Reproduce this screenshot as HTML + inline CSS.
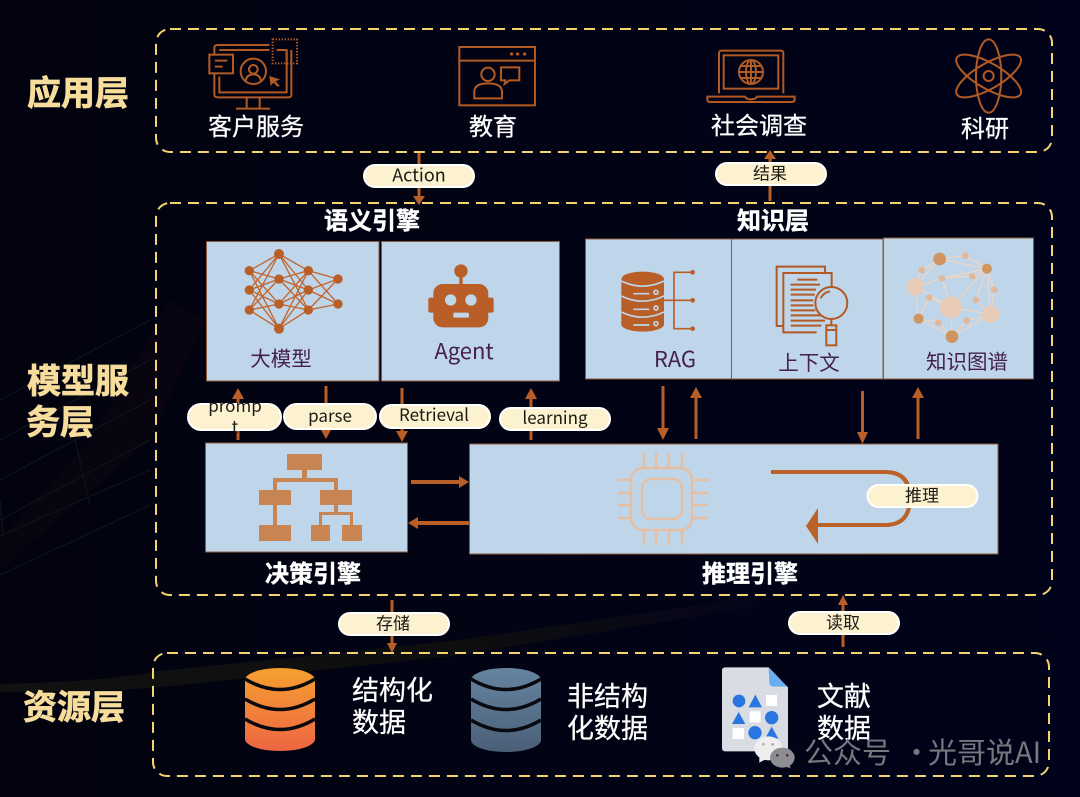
<!DOCTYPE html>
<html><head><meta charset="utf-8"><style>
html,body{margin:0;padding:0;background:#02031a;width:1080px;height:797px;overflow:hidden}
svg{display:block;font-family:"Noto Sans CJK SC","Liberation Sans",sans-serif}
.dash{fill:none;stroke:#f5d36f;stroke-width:2;stroke-dasharray:11 7}
.panel{fill:#bfd5ea;stroke:#8c5a3c;stroke-width:1}
.pill{fill:#fdf2d0;stroke:#fff;stroke-width:2}
.pt{font-size:17px;fill:#1c1a14;text-anchor:middle}
.lay{font-size:34px;font-weight:bold;fill:#f6dd9c;text-anchor:middle;stroke:#f6dd9c;stroke-width:.7px}
.ttl{font-size:24px;font-weight:bold;fill:#fff;text-anchor:middle;stroke:#fff;stroke-width:.4px}
.w24{font-size:24px;fill:#fff;text-anchor:middle;stroke:#fff;stroke-width:.25px}
.w27{font-size:27px;fill:#fff;stroke:#fff;stroke-width:.25px}
.pur{font-size:20.5px;fill:#45204f;text-anchor:middle}
.ar{stroke:#b85e26;stroke-width:3;fill:none}
.ah{fill:#b85e26}
.ic{fill:none;stroke:#b25a24;stroke-width:6}
</style></head><body>
<svg width="1080" height="797" viewBox="0 0 1080 797" xmlns="http://www.w3.org/2000/svg">
<defs>
<linearGradient id="bg" x1="0" y1="0" x2="1" y2="0"><stop offset="0" stop-color="#03030f"/><stop offset="1" stop-color="#000319"/></linearGradient>
<linearGradient id="or" x1="0" y1="0" x2="0" y2="1"><stop offset="0" stop-color="#f5a030"/><stop offset="1" stop-color="#ee6543"/></linearGradient>
<linearGradient id="bl" x1="0" y1="0" x2="0" y2="1"><stop offset="0" stop-color="#66849f"/><stop offset="1" stop-color="#4a5f77"/></linearGradient>
<linearGradient id="band" x1="0" y1="0" x2="1" y2="0"><stop offset="0" stop-color="#111110"/><stop offset=".6" stop-color="#0e0e0f"/><stop offset="1" stop-color="#05051a"/></linearGradient>
</defs>
<rect width="1080" height="797" fill="url(#bg)"/>
<!-- background decoration -->
<path d="M0 570 L150 440 L205 320 L170 300 L90 440 L0 540Z" fill="#120812" opacity=".4"/>
<path d="M0 684 Q100 682 153 672 L460 640 L760 596 L760 606 L460 655 L153 688 Q80 692 0 692Z" fill="url(#band)"/>
<g stroke="#10171c" stroke-width="1" fill="none">
<path d="M0 400 L150 320M0 440 L150 360M0 480 L150 400M0 520 L150 440M0 536 L150 470M0 575 L150 505M75 440 L90 505M0 500 L3 535"/>
</g>
<!-- dashed boxes -->
<rect class="dash" x="156" y="29" width="896" height="123" rx="14"/>
<rect class="dash" x="156" y="203" width="896" height="392" rx="14"/>
<rect class="dash" x="153" y="653" width="896" height="123" rx="14"/>
<!-- layer titles -->
<text class="lay" x="78" y="105">应用层</text>
<text class="lay" x="78" y="393">模型服</text>
<text class="lay" x="60" y="434">务层</text>
<text class="lay" x="74" y="719">资源层</text>
<!-- app labels -->
<text class="w24" x="256" y="135">客户服务</text>
<text class="w24" x="493" y="135">教育</text>
<text class="w24" x="759" y="134">社会调查</text>
<text class="w24" x="985" y="137">科研</text>
<!-- icon customer -->
<g transform="translate(150,20) scale(.3333)">
<g class="ic">
<path d="M193 103 V84 Q193 75 203 75 H358 M193 160 V224 Q193 232 203 232 H415 Q424 232 424 224 V90 M208 170 V217 H410 V92 M208 90 H358"/>
<rect x="178" y="104" width="71" height="56"/>
<path d="M195 122 H232 M195 140 H218 M290 234 V266 M329 234 V266 M258 266 H360"/>
<circle cx="310" cy="154" r="38"/><circle cx="310" cy="148" r="13"/>
<path d="M287 183 Q290 163 310 163 Q330 163 333 183"/>
<rect x="368" y="58" width="73" height="72" stroke-dasharray="4 5"/>
<path d="M380 90 H410 V120"/>
</g>
<path d="M358 168 L390 178 L377 184 L390 198 L382 200 L370 188 L362 198Z" fill="#b25a24"/>
</g>
<!-- icon education -->
<g transform="translate(150,20) scale(.3333)" class="ic">
<rect x="928" y="81" width="227" height="175"/>
<path d="M928 122 H1155"/>
<circle cx="1014" cy="163" r="20"/>
<path d="M973 235 V215 Q973 190 1014 190 Q1056 190 1056 215 V235Z"/>
<path d="M1053 142 H1108 V181 H1078 L1064 192 L1066 181 H1053Z"/>
<g fill="#b25a24" stroke="none"><circle cx="1085" cy="102" r="5"/><circle cx="1103" cy="102" r="5"/><circle cx="1124" cy="102" r="5"/></g>
</g>
<!-- icon laptop -->
<g transform="translate(610,20) scale(.3333)" class="ic">
<path d="M327 220 V100 Q327 92 335 92 H512 Q520 92 520 100 V220"/>
<rect x="341" y="106" width="164" height="100"/>
<circle cx="423" cy="156" r="36"/>
<ellipse cx="423" cy="156" rx="15" ry="36"/>
<path d="M423 120 V192 M387 156 H459 M393 138 H453 M393 174 H453"/>
<path d="M292 230 H405 Q408 238 423 238 Q438 238 441 230 H554 V238 Q554 246 545 246 H300 Q292 246 292 238Z"/>
</g>
<!-- icon atom -->
<g transform="translate(610,20) scale(.3333)" class="ic">
<ellipse cx="1136" cy="168" rx="38" ry="110"/>
<ellipse cx="1136" cy="168" rx="38" ry="110" transform="rotate(60 1136 168)"/>
<ellipse cx="1136" cy="168" rx="38" ry="110" transform="rotate(-60 1136 168)"/>
<circle cx="1136" cy="168" r="15"/>
</g>
<!-- section titles -->
<text class="ttl" x="372" y="229">语义引擎</text>
<text class="ttl" x="773" y="229">知识层</text>
<text class="ttl" x="313" y="582">决策引擎</text>
<text class="ttl" x="750" y="582">推理引擎</text>
<!-- panels -->
<rect class="panel" x="206.500" y="241.500" width="172.500" height="139.500"/>
<rect class="panel" x="381.500" y="241.500" width="178" height="139.500"/>
<rect class="panel" x="585.500" y="239" width="146" height="140"/>
<rect class="panel" x="731.500" y="239" width="151.500" height="140"/>
<rect class="panel" x="883.500" y="238" width="150" height="141"/>
<rect class="panel" x="205.500" y="443" width="202" height="109"/>
<rect class="panel" x="469.500" y="444" width="528.500" height="110"/>
<!-- neural net -->
<g transform="translate(180,230) scale(.3333)">
<path stroke="#c0662e" stroke-width="4" fill="none" d="M208 122L297 72M208 122L297 147M208 122L297 222M208 122L297 296M208 180L297 72M208 180L297 147M208 180L297 222M208 180L297 296M208 240L297 72M208 240L297 147M208 240L297 222M208 240L297 296M297 72L385 122M297 72L385 180M297 72L385 240M297 147L385 122M297 147L385 180M297 147L385 240M297 222L385 122M297 222L385 180M297 222L385 240M297 296L385 122M297 296L385 180M297 296L385 240M385 122L474 147M385 122L474 222M385 180L474 147M385 180L474 222M385 240L474 147M385 240L474 222"/>
<g fill="#b85e26">
<circle cx="208" cy="122" r="14"/><circle cx="208" cy="180" r="14"/><circle cx="208" cy="240" r="14"/>
<circle cx="297" cy="72" r="15"/><circle cx="297" cy="147" r="14"/><circle cx="297" cy="222" r="14"/><circle cx="297" cy="296" r="15"/>
<circle cx="385" cy="122" r="14"/><circle cx="385" cy="180" r="14"/><circle cx="385" cy="240" r="14"/>
<circle cx="474" cy="147" r="14"/><circle cx="474" cy="222" r="14"/>
</g>
<!-- robot -->
<g fill="#b85e26">
<circle cx="843" cy="123" r="20"/><rect x="838" y="135" width="10" height="32"/>
<rect x="760" y="162" width="165" height="130" rx="28"/>
<rect x="745" y="203" width="20" height="45" rx="6"/><rect x="921" y="203" width="20" height="45" rx="6"/>
</g>
<circle cx="812" cy="210" r="17" fill="#bfd5ea"/><circle cx="873" cy="210" r="17" fill="#bfd5ea"/>
<rect x="820" y="248" width="47" height="15" rx="4" fill="#bfd5ea"/>
</g>
<text class="pur" x="281" y="366">大模型</text>
<text class="pur" x="464" y="359" style="font-size:22px">Agent</text>
<text class="pur" x="675" y="367" style="font-size:22px">RAG</text>
<text class="pur" x="809" y="370">上下文</text>
<text class="pur" x="967" y="369">知识图谱</text>
<!-- RAG icon -->
<g transform="translate(580,230) scale(.3333)">
<path d="M124 147 A64 22 0 0 1 252 147 V283 A64 22 0 0 1 124 283Z" fill="#b85e26"/>
<path d="M124 153 Q188 184 252 153M124 198 Q188 229 252 198M124 246 Q188 277 252 246" stroke="#bfd5ea" stroke-width="5" fill="none"/>
<g stroke="#bfd5ea" stroke-width="5" fill="none"><path d="M160 191 H208M160 238 H208M160 285 H208"/><circle cx="228" cy="187" r="6"/><circle cx="228" cy="234" r="6"/><circle cx="228" cy="281" r="6"/></g>
<path d="M338 127 H282 V296 H338 M252 211 H338" stroke="#b85e26" stroke-width="5" fill="none"/>
<g fill="#b85e26"><circle cx="338" cy="127" r="7"/><circle cx="338" cy="211" r="7"/><circle cx="338" cy="296" r="7"/></g>
</g>
<!-- context icon -->
<g transform="translate(580,230) scale(.3333)" class="ic">
<path d="M608 288 H590 V110 H735 V128"/>
<path d="M710 307 H610 V129 H755 V170"/>
<path d="M652 149 H712M632 164 H720M632 179 H708M632 194 H704M632 211 H700M632 226 H700M632 241 H706M632 256 H724M632 272 H735M632 287 H724"/>
<circle cx="754" cy="219" r="48"/>
<path d="M722 205 Q730 188 750 184"/>
<path d="M754 268 V286"/>
<rect x="739" y="286" width="30" height="60"/><path d="M739 300 H769"/>
</g>
<!-- KG icon -->
<g transform="translate(580,230) scale(.3333)">
<path stroke="#ecd6c6" stroke-width="4" fill="none" d="M1079 87L1156 77L1221 116L1079 87L1006 170L1086 145L1221 116L1177 139L1086 145L1113 232L1006 170L1016 266L1048 203L1113 232L1232 253L1188 210L1221 116L1113 232M1221 116L1243 179L1232 253L1160 272L1116 320L1075 278L1016 266L1116 320L1232 253M1113 232L1116 320M1079 87L1025 120L1006 170M1221 116L1232 253"/>
<g fill="#cf9460"><circle cx="1079" cy="87" r="19"/><circle cx="1221" cy="116" r="15"/><circle cx="1016" cy="266" r="15"/><circle cx="1116" cy="320" r="19"/></g>
<g fill="#e8ccb8"><circle cx="1006" cy="170" r="26"/><circle cx="1113" cy="232" r="33"/><circle cx="1232" cy="253" r="26"/></g>
<g fill="#e0b899"><circle cx="1156" cy="77" r="10"/><circle cx="1025" cy="120" r="10"/><circle cx="1086" cy="145" r="10"/><circle cx="1177" cy="139" r="10"/><circle cx="1243" cy="179" r="10"/><circle cx="1048" cy="203" r="10"/><circle cx="1188" cy="210" r="10"/><circle cx="1075" cy="278" r="10"/><circle cx="1160" cy="272" r="10"/></g>
</g>
<!-- org chart -->
<g fill="#c98551">
<rect x="287" y="454" width="35" height="16"/>
<rect x="302" y="470" width="5" height="9"/>
<rect x="273" y="478" width="65" height="4"/>
<rect x="273" y="478" width="4" height="12"/><rect x="334" y="478" width="4" height="12"/>
<rect x="259" y="490" width="32" height="15"/><rect x="320" y="490" width="32" height="15"/>
<rect x="273" y="505" width="4" height="20"/><rect x="334" y="505" width="4" height="9"/>
<rect x="319" y="512" width="34" height="3"/>
<rect x="319" y="512" width="3" height="13"/><rect x="350" y="512" width="3" height="13"/>
<rect x="259" y="525" width="32" height="16"/><rect x="311" y="525" width="19" height="16"/><rect x="342" y="525" width="20" height="16"/>
</g>
<!-- chip -->
<g fill="none" stroke="#e6bfa3" stroke-width="2.500">
<rect x="631" y="468" width="61" height="62" rx="12"/>
<rect x="642" y="479" width="40" height="40" rx="9"/>
<path d="M644 453V468M656 453V468M669 453V468M682 453V468M644 530V545M656 530V545M669 530V545M682 530V545M618 480H631M618 493H631M618 505H631M618 518H631M692 480H708M692 493H708M692 505H708M692 518H708"/>
</g>
<!-- loop arrow -->
<path d="M771 472 H885 Q910 472 910 498 Q910 525 885 525 H815" fill="none" stroke="#bb6229" stroke-width="4"/>
<path d="M806 526 L818 508 V544Z" fill="#bb6229"/>
<!-- arrows -->
<g class="ar">
<path d="M419 153V197"/><path d="M770 201V158"/>
<path d="M238 440V396"/><path d="M326 386V431"/><path d="M402 388V433"/><path d="M531 440V396"/>
<path d="M663 386V431"/><path d="M696 439V395"/><path d="M862.500 391V435"/><path d="M918 439V395"/>
<path d="M392 600V645"/><path d="M843 647V603"/>
</g>
<path d="M411 482H462M469 523H418" stroke="#b85e26" stroke-width="4" fill="none"/>
<g class="ah">
<path d="M413 196H425L419 205Z"/><path d="M770 150L764 159H776Z"/>
<path d="M238 388L232 399H244Z"/><path d="M326 439L320 428H332Z"/><path d="M402 442L396 431H408Z"/><path d="M531 388L525 399H537Z"/>
<path d="M663 440L657 428H669Z"/><path d="M696 387L690 398H702Z"/><path d="M862.500 444L857 432H868Z"/><path d="M918 387L912 398H924Z"/>
<path d="M392 653L387 643H397Z"/><path d="M843 595L838 605H848Z"/>
<path d="M469 482L459 476V488Z"/><path d="M408 523L418 517V529Z"/>
</g>
<!-- pills -->
<rect class="pill" x="364" y="165" width="110" height="22" rx="11"/><text class="pt" x="419" y="181.500" style="font-size:18px">Action</text>
<rect class="pill" x="716" y="163" width="110" height="22" rx="11"/><text class="pt" x="770" y="179.500">结果</text>
<rect class="pill" x="188" y="404" width="93" height="26" rx="13"/>
<text class="pt" x="235" y="412">promp</text><text class="pt" x="235" y="433">t</text>
<rect class="pill" x="284" y="404" width="92" height="25" rx="12.500"/><text class="pt" x="330" y="422">parse</text>
<rect class="pill" x="380" y="405" width="110" height="23" rx="11.500"/><text class="pt" x="434" y="421">Retrieval</text>
<rect class="pill" x="500" y="408" width="110" height="22" rx="11"/><text class="pt" x="555" y="424">learning</text>
<rect class="pill" x="867.500" y="485" width="110" height="22" rx="11"/><text class="pt" x="922" y="501.500">推理</text>
<rect class="pill" x="339" y="613" width="110" height="22" rx="11"/><text class="pt" x="393" y="629.500">存储</text>
<rect class="pill" x="789" y="612" width="110" height="22" rx="11"/><text class="pt" x="843" y="628.500">读取</text>
<!-- cylinders -->
<path d="M245 680 A35 12 0 0 1 315 680 V739 A35 12 0 0 1 245 739Z" fill="url(#or)"/>
<path d="M245 679 Q280 700 315 679M245 699 Q280 720 315 699M245 719 Q280 740 315 719" stroke="#090910" stroke-width="3.500" fill="none"/>
<path d="M471 680 A35 12 0 0 1 541 680 V740 A35 12 0 0 1 471 740Z" fill="url(#bl)"/>
<path d="M471 679 Q506 700 541 679M471 699 Q506 720 541 699M471 720 Q506 741 541 720" stroke="#090910" stroke-width="3.500" fill="none"/>
<!-- resource labels -->
<text class="w27" x="352" y="700">结构化</text><text class="w27" x="352" y="732">数据</text>
<text class="w27" x="567" y="706">非结构</text><text class="w27" x="567" y="738">化数据</text>
<text class="w27" x="817" y="706">文献</text><text class="w27" x="817" y="738">数据</text>
<!-- doc icon -->
<g transform="translate(700,650) scale(.3333)">
<path d="M76 52 H206 L264 112 V294 Q264 304 254 304 H76 Q66 304 66 294 V62 Q66 52 76 52Z" fill="#d9dce3"/>
<path d="M206 54 L262 110 H222 Q208 110 208 96Z" fill="#68aef2"/>
<g fill="#2a76e0">
<circle cx="117" cy="153" r="19"/><path d="M166 134 L186 172 H146Z"/>
<path d="M116 186 L136 222 H96Z"/><circle cx="215" cy="203" r="20"/>
<circle cx="165" cy="248" r="20"/><path d="M215 230 L235 266 H195Z"/>
</g>
<g fill="#fff">
<rect x="198" y="135" width="33" height="33"/><rect x="149" y="184" width="33" height="33"/><rect x="98" y="234" width="34" height="33"/>
</g>
</g>
<!-- watermark -->
<g transform="translate(700,650) scale(.3333)">
<ellipse cx="205" cy="295" rx="42" ry="36" fill="#eeeeee"/>
<path d="M178 320 L178 338 L200 326Z" fill="#eeeeee"/>
<ellipse cx="247" cy="323" rx="37" ry="30" fill="#8e8e92"/>
<path d="M268 342 L272 355 L252 348Z" fill="#8e8e92"/>
<g fill="#3c3c42"><circle cx="232" cy="316" r="4"/><circle cx="262" cy="316" r="4"/></g>
<g fill="#aaa"><circle cx="190" cy="283" r="4"/><circle cx="218" cy="283" r="4"/></g>
</g>
<g font-size="29" fill="#77777d"><text x="804" y="763">公众号</text><text x="902" y="763">·</text><text x="928" y="763">光哥说AI</text></g>
</svg>
</body></html>
